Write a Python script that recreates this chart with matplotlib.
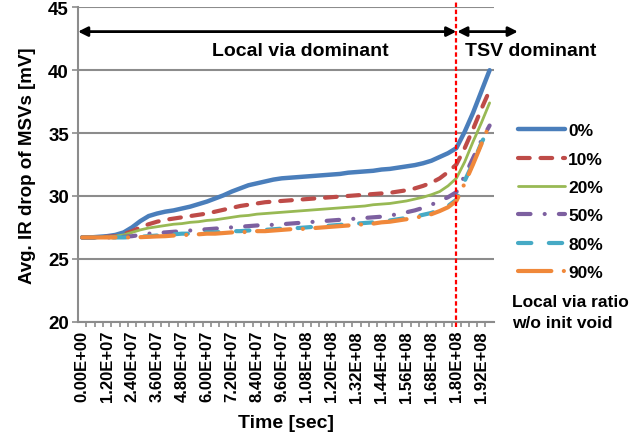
import numpy as np
import matplotlib
matplotlib.use('Agg')
import matplotlib.pyplot as plt

plt.rcParams['font.family'] = ['Liberation Sans', 'DejaVu Sans']
plt.rcParams['font.weight'] = 'bold'

# time samples every 4E+06 sec, 0 .. 1.96E+08
time_sec = np.arange(0, 1.96e8 + 1, 4e6)

ir_0 = [26.7, 26.7, 26.75, 26.8, 26.9, 27.1, 27.5, 28.0, 28.4, 28.6,
        28.75, 28.85, 29.0, 29.15, 29.35, 29.55, 29.8, 30.05, 30.35, 30.6,
        30.85, 31.0, 31.15, 31.3, 31.4, 31.45, 31.5, 31.55, 31.6, 31.65,
        31.7, 31.75, 31.85, 31.9, 31.95, 32.0, 32.1, 32.15, 32.25, 32.35,
        32.45, 32.6, 32.8, 33.1, 33.4, 33.8, 35.1, 36.6, 38.3, 40.0]
ir_10 = [26.7, 26.7, 26.7, 26.75, 26.8, 26.95, 27.2, 27.5, 27.75, 27.95,
         28.1, 28.2, 28.3, 28.4, 28.5, 28.6, 28.75, 28.9, 29.05, 29.2,
         29.3, 29.4, 29.5, 29.55, 29.6, 29.65, 29.7, 29.75, 29.8, 29.85,
         29.9, 29.95, 30.0, 30.05, 30.1, 30.15, 30.2, 30.25, 30.35, 30.45,
         30.6, 30.8, 31.05, 31.4, 31.9, 32.5, 33.8, 35.3, 36.9, 38.4]
ir_20 = [26.7, 26.7, 26.7, 26.75, 26.8, 26.9, 27.1, 27.3, 27.45, 27.55,
         27.65, 27.75, 27.8, 27.9, 27.95, 28.05, 28.1, 28.2, 28.3, 28.4,
         28.45, 28.55, 28.6, 28.65, 28.7, 28.75, 28.8, 28.85, 28.9, 28.95,
         29.0, 29.05, 29.1, 29.15, 29.2, 29.3, 29.35, 29.4, 29.5, 29.6,
         29.75, 29.9, 30.1, 30.35, 30.8, 31.4, 32.7, 34.3, 35.8, 37.4]
ir_50 = [26.7, 26.7, 26.7, 26.7, 26.7, 26.75, 26.8, 26.9, 27.0, 27.05,
         27.1, 27.15, 27.2, 27.25, 27.3, 27.35, 27.4, 27.45, 27.5, 27.55,
         27.6, 27.65, 27.7, 27.7, 27.75, 27.8, 27.85, 27.9, 27.95, 28.0,
         28.05, 28.1, 28.15, 28.2, 28.25, 28.3, 28.35, 28.45, 28.55, 28.7,
         28.85, 29.05, 29.3, 29.6, 29.9, 30.3, 31.6, 33.0, 34.4, 35.6]
ir_80 = [26.7, 26.7, 26.7, 26.7, 26.7, 26.7, 26.72, 26.75, 26.8, 26.85,
         26.9, 26.95, 27.0, 27.0, 27.05, 27.1, 27.1, 27.15, 27.2, 27.2,
         27.25, 27.3, 27.3, 27.35, 27.4, 27.45, 27.45, 27.5, 27.55, 27.6,
         27.65, 27.7, 27.75, 27.8, 27.85, 27.9, 28.0, 28.05, 28.15, 28.25,
         28.35, 28.5, 28.65, 28.9, 29.2, 29.7, 31.2, 32.6, 34.2, 35.5]
ir_90 = [26.7, 26.7, 26.7, 26.7, 26.7, 26.7, 26.7, 26.72, 26.75, 26.78,
         26.8, 26.85, 26.9, 26.9, 26.95, 27.0, 27.0, 27.05, 27.1, 27.1,
         27.15, 27.2, 27.2, 27.25, 27.3, 27.35, 27.35, 27.4, 27.45, 27.5,
         27.55, 27.6, 27.65, 27.7, 27.75, 27.8, 27.9, 27.95, 28.05, 28.15,
         28.25, 28.4, 28.55, 28.8, 29.1, 29.6, 31.0, 32.5, 34.1, 35.7]

labels = ['0%', '10%', '20%', '50%', '80%', '90%']
t_boundary = 1.8e8

cat = np.arange(len(time_sec))
x_b = cat[np.isclose(time_sec, t_boundary)][0]

fig = plt.figure(figsize=(6.29, 4.39), dpi=100)
ax = fig.add_axes([0.124, 0.265, 0.661, 0.716])

styles = [
    dict(color='#4A7EBB', lw=3.2, ls='-'),
    dict(color='#BE4B48', lw=3.0, ls=(0, (2.8, 2.6)), dash_capstyle='round'),
    dict(color='#98B954', lw=2.0, ls='-'),
    dict(color='#7D60A0', lw=3.0, ls=(0, (3.0, 3.4, 0.01, 3.4)), dash_capstyle='round'),
    dict(color='#46AAC5', lw=3.0, ls=(0, (3.2, 4.2)), dash_capstyle='round'),
    dict(color='#F0883A', lw=3.0, ls=(0, (8.0, 3.0, 0.01, 3.0)), dash_capstyle='round'),
]
series = [ir_0, ir_10, ir_20, ir_50, ir_80, ir_90]
for vals, lab, st in zip(series, labels, styles):
    ax.plot(cat, vals, label=lab, solid_capstyle='round', **st)

grey = '#8C8C8C'
ax.set_xlim(-0.5, len(cat) - 0.5)
ax.set_ylim(20, 45)
ax.set_yticks(np.arange(20, 46, 5))
ax.yaxis.grid(True, color=grey, lw=1.5)
ax.set_axisbelow(True)
for s in ['top', 'right']:
    ax.spines[s].set_visible(False)
for s in ['left', 'bottom']:
    ax.spines[s].set_color(grey)
    ax.spines[s].set_linewidth(1.5)

ax.set_xticks(cat[::3])
ax.set_xticklabels(['%.2E' % t for t in time_sec[::3]], rotation=90, fontsize=12, fontweight='bold')
ax.set_xticks(cat[:-1] + 0.5, minor=True)
ax.tick_params(axis='x', which='major', length=0, pad=6)
ax.tick_params(axis='x', which='minor', length=3.5, width=1.2, color=grey)
ax.tick_params(axis='y', length=4.5, width=1.2, color=grey, labelsize=13.5, pad=2)
for t in ax.get_yticklabels():
    t.set_fontweight('bold')

ax.set_xlabel('Time [sec]', fontsize=14, fontweight='bold', labelpad=9)
ax.set_ylabel('Avg. IR drop of MSVs [mV]', fontsize=13.5, fontweight='bold', labelpad=9)

# boundary between the two regimes
ax.plot([x_b, x_b], [19.6, 45.4], color='red', lw=1.6, ls=(0, (2, 1.2)), clip_on=False, zorder=5)

arrow = dict(arrowstyle='<|-|>', color='black', lw=2, mutation_scale=14, shrinkA=0, shrinkB=0)
ax.annotate('', xy=(-0.5, 43.07), xytext=(x_b, 43.07), arrowprops=arrow, annotation_clip=False)
ax.annotate('', xy=(x_b + 0.1, 43.07), xytext=(52.4, 43.07), arrowprops=arrow, annotation_clip=False)
ax.text(26.2, 41.58, 'Local via dominant', ha='center', va='center', fontsize=14, fontweight='bold')
ax.text(54.0, 41.58, 'TSV dominant', ha='center', va='center', fontsize=14, fontweight='bold', clip_on=False)

leg = ax.legend(loc='upper left', bbox_to_anchor=(0.823, 0.717), bbox_transform=fig.transFigure,
                frameon=False, fontsize=12.5, handlelength=2.7, handletextpad=0.2, labelspacing=0.76,
                borderaxespad=0, borderpad=0)
for t in leg.get_texts():
    t.set_fontweight('bold')
fig.text(0.814, 0.312, 'Local via ratio', fontsize=12.5, fontweight='bold', va='center')
fig.text(0.814, 0.263, 'w/o init void', fontsize=12.5, fontweight='bold', va='center')

fig.savefig('out.png', dpi=100)
